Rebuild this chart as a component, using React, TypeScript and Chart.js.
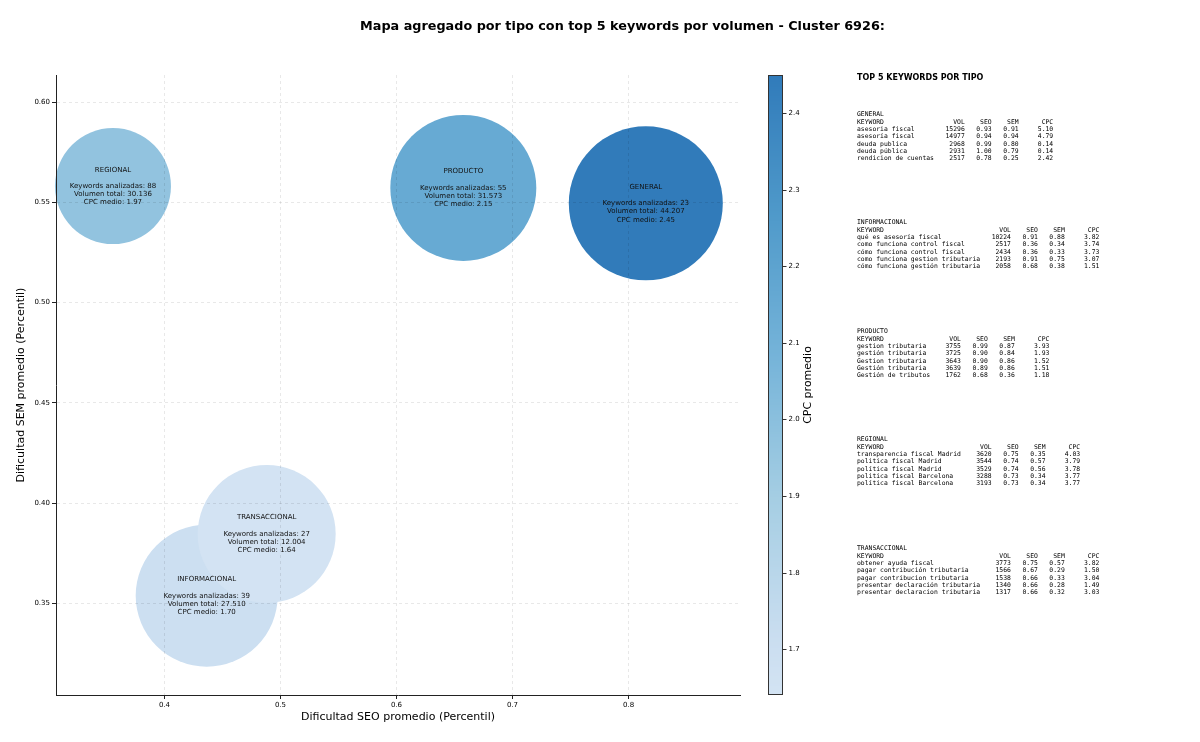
import React, { useEffect, useRef } from 'react';
import { Chart, registerables } from 'chart.js';

Chart.register(...registerables);

// ---- Aggregated data per type ----
const types = ['GENERAL', 'INFORMACIONAL', 'PRODUCTO', 'REGIONAL', 'TRANSACCIONAL'];
const seoAvg = [0.8149, 0.4364, 0.6576, 0.3556, 0.4881];
const semAvg = [0.5495, 0.3539, 0.5572, 0.5581, 0.3847];
const cpcAvg = [2.45, 1.70, 2.15, 1.97, 1.64];
const kwCount = [23, 39, 55, 88, 27];
const volTotal = [44207, 27510, 31573, 30136, 12004];
const bubbleRadius = [77, 71, 73, 58, 69];

// ---- Axis ticks / limits ----
const xTicks = [0.4, 0.5, 0.6, 0.7, 0.8];
const yTicks = [0.35, 0.40, 0.45, 0.50, 0.55, 0.60];
const cbTicks = [1.7, 1.8, 1.9, 2.0, 2.1, 2.2, 2.3, 2.4];
const xLimits = [0.3065, 0.8961];
const yLimits = [0.3044, 0.6135];

// ---- Top 5 keywords per type: [keyword, VOL, SEO, SEM, CPC] ----
type Row = [string, number, number, number, number];
const topGeneral: Row[] = [
  ['asesoria fiscal', 15296, 0.93, 0.91, 5.10],
  ['asesoría fiscal', 14977, 0.94, 0.94, 4.79],
  ['deuda publica', 2968, 0.99, 0.80, 0.14],
  ['deuda pública', 2931, 1.00, 0.79, 0.14],
  ['rendicion de cuentas', 2517, 0.78, 0.25, 2.42],
];
const topInformacional: Row[] = [
  ['qué es asesoría fiscal', 10224, 0.91, 0.88, 3.82],
  ['como funciona control fiscal', 2517, 0.36, 0.34, 3.74],
  ['cómo funciona control fiscal', 2434, 0.36, 0.33, 3.73],
  ['como funciona gestion tributaria', 2193, 0.91, 0.75, 3.07],
  ['cómo funciona gestión tributaria', 2058, 0.68, 0.38, 1.51],
];
const topProducto: Row[] = [
  ['gestion tributaria', 3755, 0.99, 0.87, 3.93],
  ['gestión tributaria', 3725, 0.90, 0.84, 1.93],
  ['Gestion tributaria', 3643, 0.90, 0.86, 1.52],
  ['Gestión tributaria', 3639, 0.89, 0.86, 1.51],
  ['Gestión de tributos', 1762, 0.68, 0.36, 1.18],
];
const topRegional: Row[] = [
  ['transparencia fiscal Madrid', 3620, 0.75, 0.35, 4.03],
  ['politica fiscal Madrid', 3544, 0.74, 0.57, 3.79],
  ['política fiscal Madrid', 3529, 0.74, 0.56, 3.78],
  ['politica fiscal Barcelona', 3288, 0.73, 0.34, 3.77],
  ['política fiscal Barcelona', 3193, 0.73, 0.34, 3.77],
];
const topTransaccional: Row[] = [
  ['obtener ayuda fiscal', 3773, 0.75, 0.57, 3.82],
  ['pagar contribución tributaria', 1566, 0.67, 0.29, 1.50],
  ['pagar contribucion tributaria', 1538, 0.66, 0.33, 3.04],
  ['presentar declaración tributaria', 1340, 0.66, 0.28, 1.49],
  ['presentar declaracion tributaria', 1317, 0.66, 0.32, 3.03],
];
const topBlocks: [string, Row[]][] = [
  ['GENERAL', topGeneral],
  ['INFORMACIONAL', topInformacional],
  ['PRODUCTO', topProducto],
  ['REGIONAL', topRegional],
  ['TRANSACCIONAL', topTransaccional],
];

const TITLE = 'Mapa agregado por tipo con top 5 keywords por volumen - Cluster 6926:';

// ---- Blues colormap ----
const BLUES = [
  [247, 251, 255], [222, 235, 247], [198, 219, 239], [158, 202, 225], [107, 174, 214],
  [66, 146, 198], [33, 113, 181], [8, 81, 156], [8, 48, 107],
];
function bluesAt(t: number): number[] {
  const p = Math.max(0, Math.min(1, t)) * 8;
  const i = Math.min(7, Math.floor(p));
  const f = p - i;
  return BLUES[i].map((c, k) => c + (BLUES[i + 1][k] - c) * f);
}
const cMin = Math.min(...cpcAvg);
const cMax = Math.max(...cpcAvg);
function cpcColor(v: number): string {
  const t = (v - cMin) / (cMax - cMin);
  const c = bluesAt(0.2 + 0.55 * t);
  // slight transparency over white, as in the reference
  const a = 0.93;
  const m = (x: number) => Math.round(x * a + 255 * (1 - a));
  return `rgb(${m(c[0])},${m(c[1])},${m(c[2])})`;
}

function fmtThousands(v: number): string {
  return String(v).replace(/\B(?=(\d{3})+(?!\d))/g, '.');
}

function blockText(name: string, rows: Row[]): string {
  const L = Math.max(...rows.map((r) => r[0].length));
  const lines = [name];
  lines.push('KEYWORD'.padEnd(L) + 'VOL'.padStart(8) + 'SEO'.padStart(7) + 'SEM'.padStart(7) + 'CPC'.padStart(9));
  rows.forEach((r) => {
    lines.push(
      r[0].padEnd(L) +
        String(r[1]).padStart(8) +
        r[2].toFixed(2).padStart(7) +
        r[3].toFixed(2).padStart(7) +
        r[4].toFixed(2).padStart(9)
    );
  });
  return lines.join('\n');
}

const FONT = "'DejaVu Sans', sans-serif";

export default function App() {
  const ref = useRef<HTMLCanvasElement | null>(null);

  useEffect(() => {
    if (!ref.current) return;
    const colors = cpcAvg.map(cpcColor);

    const overlay = {
      id: 'overlay',
      afterDraw(chart: any) {
        const { ctx, chartArea } = chart;
        const xs = chart.scales.x;
        const ys = chart.scales.y;
        ctx.save();
        // bubble labels
        ctx.fillStyle = '#111';
        ctx.font = `7px ${FONT}`;
        ctx.textAlign = 'center';
        ctx.textBaseline = 'middle';
        types.forEach((t, i) => {
          const cx = xs.getPixelForValue(seoAvg[i]);
          const cy = ys.getPixelForValue(semAvg[i]);
          const lines = [
            t,
            '',
            `Keywords analizadas: ${kwCount[i]}`,
            `Volumen total: ${fmtThousands(volTotal[i])}`,
            `CPC medio: ${cpcAvg[i].toFixed(2)}`,
          ];
          lines.forEach((ln, k) => {
            if (ln) ctx.fillText(ln, cx, cy + (k - 2) * 8.2);
          });
        });

        // colorbar
        const top = chartArea.top;
        const bottom = chartArea.bottom;
        const cbX = 768.5;
        const cbW = 14;
        for (let y = top; y < bottom; y++) {
          const v = cMax - ((y + 0.5 - top) / (bottom - top)) * (cMax - cMin);
          ctx.fillStyle = cpcColor(v);
          ctx.fillRect(cbX, y, cbW, 1);
        }
        ctx.strokeStyle = '#333';
        ctx.lineWidth = 1;
        ctx.strokeRect(cbX, top + 0.5, cbW, bottom - top - 1);
        ctx.fillStyle = '#000';
        ctx.font = `7px ${FONT}`;
        ctx.textAlign = 'left';
        ctx.textBaseline = 'middle';
        cbTicks.forEach((v) => {
          const y = Math.round(bottom - ((v - cMin) / (cMax - cMin)) * (bottom - top)) + 0.5;
          ctx.beginPath();
          ctx.moveTo(cbX + cbW, y);
          ctx.lineTo(cbX + cbW + 4, y);
          ctx.stroke();
          ctx.fillText(v.toFixed(1), cbX + cbW + 6, y);
        });
        ctx.font = `11px ${FONT}`;
        ctx.textAlign = 'center';
        ctx.translate(808, (top + bottom) / 2);
        ctx.rotate(-Math.PI / 2);
        ctx.fillText('CPC promedio', 0, 0);
        ctx.restore();
      },
    };

    const chart = new Chart(ref.current, {
      type: 'bubble',
      data: {
        datasets: [
          {
            data: types.map((_, i) => ({ x: seoAvg[i], y: semAvg[i], r: bubbleRadius[i] })),
            backgroundColor: colors,
            borderColor: colors,
            borderWidth: 0,
            hoverRadius: 0,
            clip: false as any,
          } as any,
        ],
      },
      options: {
        responsive: false,
        animation: false,
        devicePixelRatio: 1,
        events: [],
        layout: { autoPadding: false, padding: { left: 0, top: 75, right: 460, bottom: 0 } },
        plugins: { legend: { display: false }, tooltip: { enabled: false }, title: { display: false } },
        scales: {
          x: {
            type: 'linear',
            min: xLimits[0],
            max: xLimits[1],
            afterBuildTicks: (s: any) => {
              s.ticks = xTicks.map((v) => ({ value: v }));
            },
            afterFit: (s: any) => {
              s.height = 47;
            },
            grid: {
              color: 'rgba(0,0,0,0.09)',
              tickColor: '#222',
              tickLength: 4,
              z: 1,
            },
            border: { display: true, color: '#222', width: 1, dash: [3, 3], z: 2 },
            ticks: {
              color: '#000',
              font: { family: FONT, size: 7 },
              padding: 2,
              callback: (v: any) => Number(v).toFixed(1),
            },
            title: {
              display: true,
              text: 'Dificultad SEO promedio (Percentil)',
              color: '#000',
              font: { family: FONT, size: 11 },
              padding: { top: 0, bottom: 18 },
            },
          },
          y: {
            type: 'linear',
            min: yLimits[0],
            max: yLimits[1],
            afterBuildTicks: (s: any) => {
              s.ticks = yTicks.map((v) => ({ value: v }));
            },
            afterFit: (s: any) => {
              s.width = 56;
            },
            grid: {
              color: 'rgba(0,0,0,0.09)',
              tickColor: '#222',
              tickLength: 4,
              z: 1,
            },
            border: { display: true, color: '#222', width: 1, dash: [3, 3], z: 2 },
            ticks: {
              color: '#000',
              font: { family: FONT, size: 7 },
              padding: 2,
              callback: (v: any) => Number(v).toFixed(2),
            },
            title: {
              display: true,
              text: 'Dificultad SEM promedio (Percentil)',
              color: '#000',
              font: { family: FONT, size: 11 },
              padding: { top: 15, bottom: 0 },
            },
          },
        },
      },
      plugins: [overlay],
    } as any);

    return () => chart.destroy();
  }, []);

  const blockTops = [115, 223, 332, 440, 549];

  return (
    <div style={{ position: 'fixed', left: 0, top: 0, width: 1200, height: 742, background: '#fff', overflow: 'hidden' }}>
      <canvas ref={ref} width={1200} height={742} style={{ position: 'absolute', left: 0, top: 0, width: 1200, height: 742 }} />
      <div
        style={{
          position: 'absolute',
          left: 622.5,
          top: 18,
          transform: 'translateX(-50%)',
          whiteSpace: 'nowrap',
          fontFamily: FONT,
          fontWeight: 'bold',
          fontSize: 12.8,
          lineHeight: '16px',
          color: '#000',
        }}
      >
        {TITLE}
      </div>
      <div
        style={{
          position: 'absolute',
          left: 857,
          top: 73,
          whiteSpace: 'nowrap',
          fontFamily: FONT,
          fontWeight: 'bold',
          fontSize: 8,
          lineHeight: '10px',
          color: '#000',
        }}
      >
        TOP 5 KEYWORDS POR TIPO
      </div>
      {topBlocks.map(([name, rows], i) => (
        <pre
          key={name}
          style={{
            position: 'absolute',
            left: 857,
            top: blockTops[i] - 3.7,
            margin: 0,
            fontFamily: "'DejaVu Sans Mono', monospace",
            fontSize: 6.4,
            lineHeight: '7.35px',
            color: '#000',
          }}
        >
          {blockText(name, rows)}
        </pre>
      ))}
    </div>
  );
}
